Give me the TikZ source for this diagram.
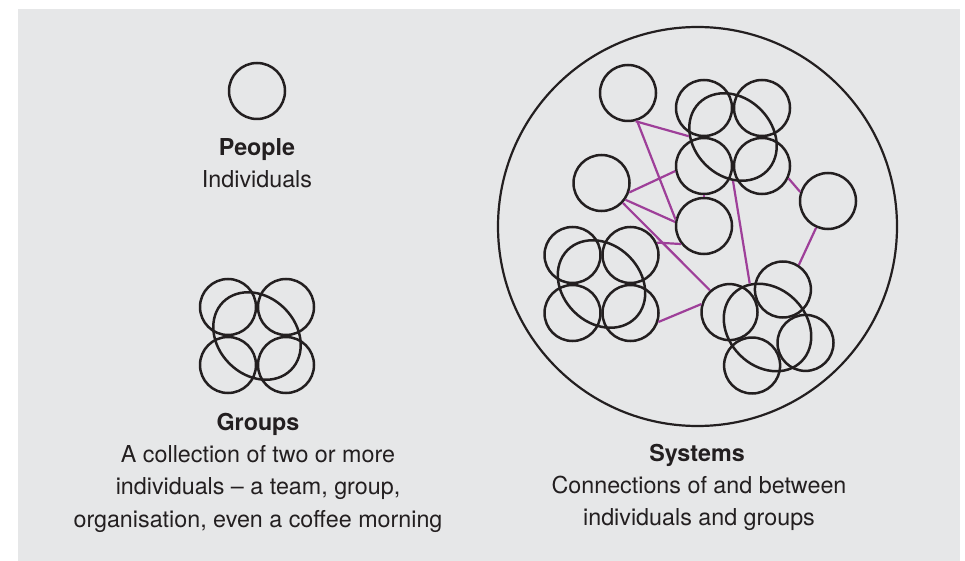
\documentclass[tikz,border=0pt]{standalone}
\usepackage{fontspec}
\setmainfont{TeX Gyre Heros}
\usetikzlibrary{shapes.geometric}

\definecolor{panel}{HTML}{E6E7E8}
\definecolor{ink}{HTML}{231F20}
\definecolor{link}{HTML}{9E3F99}

\tikzset{
  person/.style={circle, draw=ink, line width=2.5pt, minimum size=56pt, inner sep=0pt},
  team/.style={ellipse, draw=ink, line width=2.5pt, minimum width=96pt, minimum height=78pt, inner sep=0pt, rotate=-45},
  tie/.style={draw=link, line width=2.2pt},
  heading/.style={font=\fontsize{23.3}{32.5}\selectfont\bfseries, text=ink, anchor=base, inner sep=0pt},
  caption/.style={font=\fontsize{23.3}{32.5}\selectfont, text=ink, align=center, anchor=base, inner sep=0pt}
}

\begin{document}
\begin{tikzpicture}[x=1pt, y=-1pt]
        \pgfmathsetmacro{\sep}{29}

        \useasboundingbox (0,0) rectangle (965,561);
        \fill[panel] (18,9) rectangle (960,561);

        % people
        \node[person] (p) at (257,91) {};
        \node[heading] (ptitle) at (257,156) {People};
        \node[caption] (ptext) at (257,188) {Individuals};

        % groups
        \node[team] (g) at (257,336) {};
        \node[person] (g1) at (257-\sep, 336-\sep) {};
        \node[person] (g2) at (257+\sep, 336-\sep) {};
        \node[person] (g3) at (257-\sep, 336+\sep) {};
        \node[person] (g4) at (257+\sep, 336+\sep) {};
        \node[heading] (gtitle) at (258,430) {Groups};
        % base sits on the last line
        \node[caption] (gtext) at (258,527) {A collection of two or more\\individuals -- a team, group,\\organisation, even a coffee morning};

        % systems
        \node[circle, draw=ink, line width=2.2pt, minimum size=399pt, inner sep=0pt] (s) at (697.5,226.5) {};

        \node[person] (c1) at (628,93) {};
        \node[person] (c2) at (601.5,183) {};
        \node[person] (c3) at (704,226) {};
        \node[person] (c4) at (828,201) {};

        \node[team] (t) at (733,137) {};
        \node[person] (t1) at (733-\sep, 137-\sep) {};
        \node[person] (t2) at (733+\sep, 137-\sep) {};
        \node[person] (t3) at (733-\sep, 137+\sep) {};
        \node[person] (t4) at (733+\sep, 137+\sep) {};

        \node[team] (l) at (601.5,284) {};
        \node[person] (l1) at (601.5-\sep, 284-\sep) {};
        \node[person] (l2) at (601.5+\sep, 284-\sep) {};
        \node[person] (l3) at (601.5-\sep, 284+\sep) {};
        \node[person] (l4) at (601.5+\sep, 284+\sep) {};

        % turned group
        \node[team] (b) at (767.5,327.5) {};
        \node[person] (b1) at (729.5,312.1) {};
        \node[person] (b2) at (782.9,289.5) {};
        \node[person] (b3) at (805.5,342.9) {};
        \node[person] (b4) at (752.1,365.5) {};

        \draw[tie] (c1.-75) -- (t.224);
        \draw[tie] (c1.-72) -- (c3.167);
        \draw[tie] (c2.-19) -- (t3.-170);
        \draw[tie] (c2.-35) -- (c3.172);
        \draw[tie] (c2.-43) -- (b1.132);
        \draw[tie] (l2.25) -- (c3.218);
        \draw[tie] (t.-45) -- (b.157);
        \draw[tie] (t4.-25) -- (c4.162);
        \draw[tie] (c4.-114) -- (b2.57);
        \draw[tie] (l4.-18) -- (b1.164);
        \draw[tie] (t3.-90) -- (c3.90);

        \node[heading] (stitle) at (697,461) {Systems};
        \node[caption] (stext) at (699,525.5) {Connections of and between\\individuals and groups};
    \end{tikzpicture}
\end{document}
